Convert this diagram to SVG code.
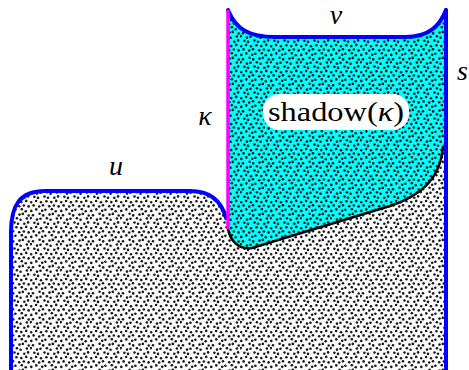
<svg xmlns="http://www.w3.org/2000/svg" width="469" height="370" viewBox="0 0 469 370">
<style>
.blue{fill:none;stroke:#0000ff;stroke-width:4;stroke-linecap:round}
</style>
<defs>
<pattern id="dots" width="30" height="26" patternUnits="userSpaceOnUse">
<g fill="#1a1a1a">
<circle cx="1.3" cy="2.9" r="1.3"/><circle cx="6.3" cy="1.4" r="1.3"/><circle cx="12.2" cy="2.7" r="1.3"/><circle cx="15.4" cy="1.8" r="1.3"/><circle cx="21.8" cy="1.2" r="1.3"/><circle cx="25.7" cy="3.2" r="1.3"/>
<circle cx="3.0" cy="7.3" r="1.3"/><circle cx="9.6" cy="5.8" r="1.3"/><circle cx="13.2" cy="7.4" r="1.3"/><circle cx="19.5" cy="6.6" r="1.3"/><circle cx="22.8" cy="5.9" r="1.3"/><circle cx="28.7" cy="7.5" r="1.3"/>
<circle cx="0.8" cy="10.1" r="1.3"/><circle cx="7.0" cy="11.6" r="1.3"/><circle cx="10.5" cy="10.8" r="1.3"/><circle cx="16.9" cy="10.2" r="1.3"/><circle cx="20.6" cy="11.8" r="1.3"/><circle cx="26.9" cy="10.5" r="1.3"/>
<circle cx="4.4" cy="14.7" r="1.3"/><circle cx="8.0" cy="15.9" r="1.3"/><circle cx="14.5" cy="14.5" r="1.3"/><circle cx="18.0" cy="15.7" r="1.3"/><circle cx="24.3" cy="15.8" r="1.3"/><circle cx="28.1" cy="14.4" r="1.3"/>
<circle cx="1.2" cy="20.2" r="1.3"/><circle cx="6.1" cy="19.0" r="1.3"/><circle cx="11.0" cy="20.3" r="1.3"/><circle cx="16.4" cy="19.2" r="1.3"/><circle cx="21.3" cy="20.1" r="1.3"/><circle cx="26.2" cy="18.9" r="1.3"/>
<circle cx="3.6" cy="23.4" r="1.3"/><circle cx="9.2" cy="24.5" r="1.3"/><circle cx="13.0" cy="23.3" r="1.3"/><circle cx="19.2" cy="24.3" r="1.3"/><circle cx="23.8" cy="23.5" r="1.3"/><circle cx="28.6" cy="24.4" r="1.3"/>
</g>
</pattern>
</defs>
<rect width="469" height="370" fill="#fff"/>
<g id="region">
<path d="M11,370 V232 C11,205 20,191 45,191 H190 C212,191 222,203 226,216 L228,229 V10 C236,30 250,37 275,37 H405 C430,37 440,25 446,10 V370 Z" fill="url(#dots)"/>
</g>
<g id="shadow">
<path d="M228,10 C236,30 250,37 275,37 H405 C430,37 440,25 446,10 V145 L443,147 C440,180 420,196 390,206 L252,248 C238,250 230,240 228,229 Z" fill="#00ffff"/>
<path d="M228,10 C236,30 250,37 275,37 H405 C430,37 440,25 446,10 V145 L443,147 C440,180 420,196 390,206 L252,248 C238,250 230,240 228,229 Z" fill="url(#dots)"/>
<rect x="263" y="94" width="146" height="36" rx="16" fill="#fff"/>
<text font-family="Liberation Serif, Times New Roman, serif" font-size="28" x="336" y="121" text-anchor="middle" textLength="136" lengthAdjust="spacingAndGlyphs">shadow(<tspan font-style="italic">κ</tspan>)</text>
</g>
<g id="connectors">
<path d="M228,229 C230,240 238,250 252,248 L390,206 C420,196 440,180 443,147" fill="none" stroke="#000" stroke-width="2.5" stroke-linecap="round"/>
<path class="blue" d="M11,372 V232 C11,205 20,191 45,191 H190 C212,191 222,203 226,218"/>
<path class="blue" d="M228,10 C236,30 250,37 275,37 H405 C430,37 440,25 446,10"/>
<path class="blue" d="M446,10 V372"/>
<path d="M228,10 V229" fill="none" stroke="#ff00ff" stroke-width="3.5"/>
</g>
<g id="labels" font-family="Liberation Serif, Times New Roman, serif" font-style="italic" font-size="28">
<text x="116" y="175" text-anchor="middle">u</text>
<text x="336" y="24" text-anchor="middle">v</text>
<text x="457" y="80">s</text>
<text x="205" y="125" text-anchor="middle">κ</text>
</g>
</svg>
